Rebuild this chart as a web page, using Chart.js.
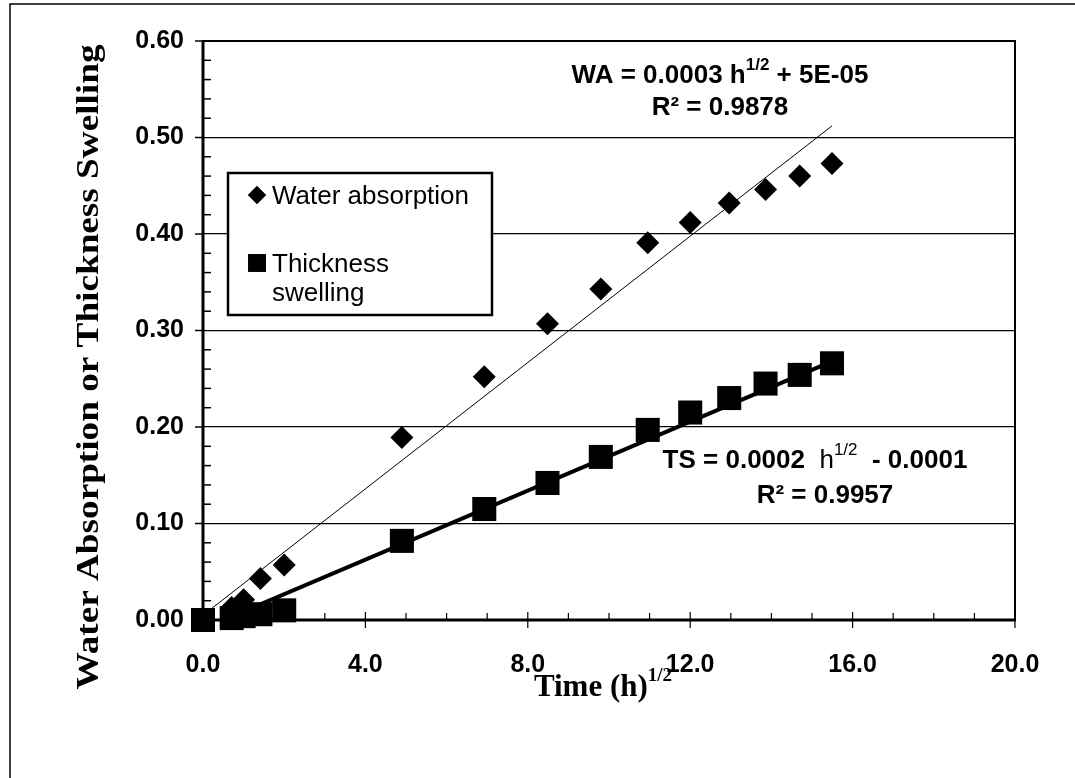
<!DOCTYPE html>
<html>
<head>
<meta charset="utf-8">
<script src="https://cdn.jsdelivr.net/npm/chart.js@4/dist/chart.umd.min.js"></script>
<style>
  html, body { margin: 0; padding: 0; background: #fff; }
  canvas { display: block; }
</style>
</head>
<body>
<canvas id="swellChart" width="1075" height="778"></canvas>
<script>
// square root of soaking time, h^1/2
const rootTime = [0, 0.707, 1.0, 1.414, 2.0, 4.899, 6.928, 8.485, 9.798, 10.954, 12.0, 12.961, 13.856, 14.697, 15.492];
const waterAbsorption = [0, 0.013, 0.021, 0.043, 0.057, 0.189, 0.252, 0.307, 0.343, 0.391, 0.412, 0.432, 0.446, 0.460, 0.473];
const thicknessSwelling = [0, 0.002, 0.004, 0.006, 0.010, 0.082, 0.115, 0.142, 0.169, 0.197, 0.215, 0.230, 0.245, 0.254, 0.266];

// linear trend lines, end points only
const waFitX = [0, 15.492];
const waFitY = [0.005, 0.512];
const tsFitX = [0, 15.492];
const tsFitY = [-0.009, 0.268];

const xTicks = [0, 4, 8, 12, 16, 20];
const yTicks = [0, 0.1, 0.2, 0.3, 0.4, 0.5, 0.6];

const SANS = "'Liberation Sans', Arial, sans-serif";
const SERIF = "'Liberation Serif', 'Times New Roman', serif";

function points(xs, ys) {
  return xs.map((x, i) => ({ x: x, y: ys[i] }));
}

// draws a row of text pieces (for superscripts), centred on cx
function drawRuns(ctx, runs, cx, baseline) {
  let total = 0;
  runs.forEach(r => {
    ctx.font = r.font;
    r.w = ctx.measureText(r.text).width;
    total += r.w;
  });
  let x = cx - total / 2;
  ctx.textAlign = 'left';
  ctx.textBaseline = 'alphabetic';
  runs.forEach(r => {
    ctx.font = r.font;
    ctx.fillText(r.text, x, baseline + (r.dy || 0));
    x += r.w;
  });
}

function line(ctx, x1, y1, x2, y2) {
  ctx.beginPath();
  ctx.moveTo(x1, y1);
  ctx.lineTo(x2, y2);
  ctx.stroke();
}

const framePlugin = {
  id: 'frame',
  beforeDatasetsDraw(chart) {
    const ctx = chart.ctx;
    const a = chart.chartArea;
    const xs = chart.scales.x;
    const ys = chart.scales.y;
    ctx.save();
    ctx.strokeStyle = '#000';

    // top and right edges of the plot area
    ctx.lineWidth = 2;
    line(ctx, a.left, a.top, a.right + 1, a.top);
    line(ctx, a.right, a.top, a.right, a.bottom);

    // y ticks: major outside, minor inside
    ctx.lineWidth = 1.5;
    yTicks.forEach(v => {
      const y = ys.getPixelForValue(v);
      line(ctx, a.left - 8, y, a.left, y);
    });
    for (let k = 1; k < 30; k++) {
      if (k % 5 === 0) continue;
      const y = ys.getPixelForValue(k * 0.02);
      line(ctx, a.left, y, a.left + 8, y);
    }

    // x ticks: major crossing, minor inside
    ctx.lineWidth = 1.2;
    for (let v = 1; v <= 20; v++) {
      const x = xs.getPixelForValue(v);
      if (v % 4 === 0) line(ctx, x, a.bottom - 8, x, a.bottom + 8);
      else line(ctx, x, a.bottom - 7, x, a.bottom);
    }

    // axis lines
    ctx.lineWidth = 3;
    line(ctx, a.left, a.top - 1, a.left, a.bottom + 1.5);
    line(ctx, a.left - 1.5, a.bottom, a.right + 1, a.bottom);
    ctx.restore();
  },
  afterDraw(chart) {
    const ctx = chart.ctx;
    ctx.save();
    ctx.fillStyle = '#000';
    ctx.strokeStyle = '#000';

    // outer chart border
    ctx.lineWidth = 1.5;
    ctx.strokeRect(10, 4, 1080, 800);

    // legend
    ctx.lineWidth = 2.5;
    ctx.fillStyle = '#fff';
    ctx.fillRect(228, 173, 264, 142);
    ctx.strokeRect(228, 173, 264, 142);
    ctx.fillStyle = '#000';
    const ds = chart.data.datasets;
    Chart.helpers.drawPoint(ctx, { pointStyle: 'rectRot', radius: 9, borderWidth: 0 }, 257, 195);
    ctx.fill();
    Chart.helpers.drawPoint(ctx, { pointStyle: 'rect', radius: 12.5, borderWidth: 0 }, 257, 263);
    ctx.fill();
    ctx.font = '26px ' + SANS;
    ctx.textAlign = 'left';
    ctx.textBaseline = 'alphabetic';
    ctx.fillText(ds[0].label, 272, 204);
    const tsWords = ds[1].label.split(' ');
    ctx.fillText(tsWords[0], 272, 272);
    ctx.fillText(tsWords[1], 272, 301);

    // trend line equations
    const b26 = 'bold 26px ' + SANS;
    const b16 = 'bold 17px ' + SANS;
    drawRuns(ctx, [
      { text: 'WA = 0.0003 h', font: b26 },
      { text: '1/2', font: b16, dy: -13 },
      { text: ' + 5E-05', font: b26 }
    ], 720, 83);
    drawRuns(ctx, [{ text: 'R\u00b2 = 0.9878', font: b26 }], 720, 115);
    drawRuns(ctx, [
      { text: 'TS = 0.0002  ', font: b26 },
      { text: 'h', font: '26px ' + SANS },
      { text: '1/2', font: '17px ' + SANS, dy: -13 },
      { text: '  - 0.0001', font: b26 }
    ], 815, 468);
    drawRuns(ctx, [{ text: 'R\u00b2 = 0.9957', font: b26 }], 825, 503);

    // x axis title
    drawRuns(ctx, [
      { text: 'Time (h)', font: 'bold 31px ' + SERIF },
      { text: '1/2', font: 'bold 19px ' + SERIF, dy: -15 }
    ], 603, 696);

    // y axis title, rotated and stretched along its length
    const yTitle = 'Water Absorption or Thickness Swelling';
    ctx.font = 'bold 32px ' + SERIF;
    const tw = ctx.measureText(yTitle).width;
    const stretch = 645 / tw;
    ctx.translate(98, 367);
    ctx.rotate(-Math.PI / 2);
    ctx.scale(stretch, 1);
    ctx.textAlign = 'center';
    ctx.textBaseline = 'alphabetic';
    ctx.fillText(yTitle, 0, 0);
    ctx.restore();
  }
};

const chart = new Chart(document.getElementById('swellChart').getContext('2d'), {
  type: 'scatter',
  data: {
    datasets: [
      {
        label: 'Water absorption',
        data: points(rootTime, waterAbsorption),
        pointStyle: 'rectRot',
        pointRadius: 11.5,
        pointBorderWidth: 0,
        backgroundColor: '#000',
        borderColor: '#000',
        clip: false
      },
      {
        label: 'Thickness swelling',
        data: points(rootTime, thicknessSwelling),
        pointStyle: 'rect',
        pointRadius: 17,
        pointBorderWidth: 0,
        backgroundColor: '#000',
        borderColor: '#000',
        clip: false
      },
      {
        label: 'WA trend',
        data: points(waFitX, waFitY),
        showLine: true,
        pointRadius: 0,
        borderWidth: 1,
        borderColor: '#000',
        fill: false
      },
      {
        label: 'TS trend',
        data: points(tsFitX, tsFitY),
        showLine: true,
        pointRadius: 0,
        borderWidth: 4,
        borderColor: '#000',
        fill: false
      }
    ]
  },
  options: {
    responsive: false,
    animation: false,
    devicePixelRatio: 1,
    layout: { padding: { left: 0, top: 41, right: 60, bottom: 98 } },
    plugins: {
      legend: { display: false },
      tooltip: { enabled: false }
    },
    scales: {
      x: {
        type: 'linear',
        min: 0,
        max: 20,
        afterBuildTicks: s => { s.ticks = xTicks.map(v => ({ value: v })); },
        afterFit: s => { s.height = 60; },
        grid: { display: false, drawTicks: false },
        border: { display: false },
        ticks: {
          padding: 30,
          color: '#000',
          font: { family: SANS, size: 25, weight: 'bold' },
          callback: v => v.toFixed(1)
        }
      },
      y: {
        min: 0,
        max: 0.6,
        afterBuildTicks: s => { s.ticks = yTicks.map(v => ({ value: v })); },
        afterFit: s => { s.width = 203; },
        grid: {
          drawTicks: false,
          lineWidth: 1.3,
          color: c => (c.tick && c.tick.value > 0.01 && c.tick.value < 0.59) ? '#000' : 'rgba(0,0,0,0)'
        },
        border: { display: false },
        ticks: {
          padding: 19,
          color: '#000',
          font: { family: SANS, size: 25, weight: 'bold' },
          callback: v => v.toFixed(2)
        }
      }
    }
  },
  plugins: [framePlugin]
});
</script>
</body>
</html>
